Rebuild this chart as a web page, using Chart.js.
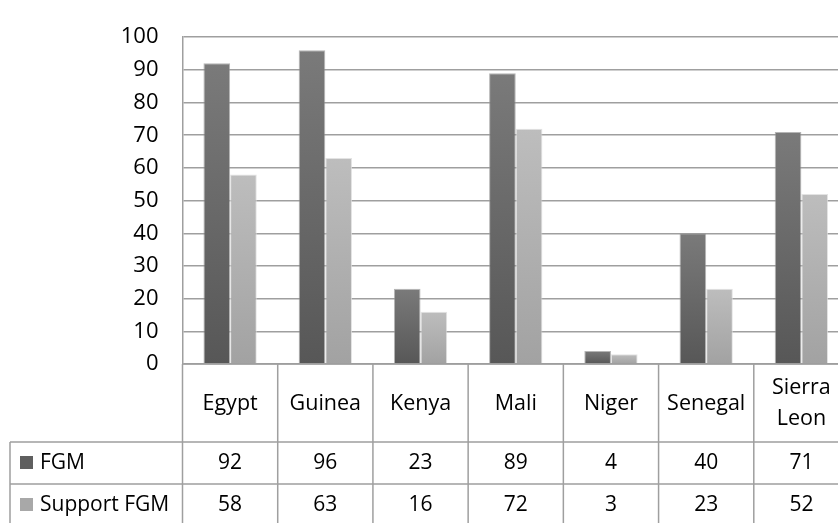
<!DOCTYPE html>
<html>
<head>
<meta charset="utf-8">
<script src="https://cdn.jsdelivr.net/npm/chart.js@4.4.1/dist/chart.umd.min.js"></script>
<style>
  html, body { margin: 0; padding: 0; background: #fff; overflow: hidden; }
  #caja { width: 850px; height: 523px; }
</style>
</head>
<body>
<div id="caja"><canvas id="grafica" width="850" height="523"></canvas></div>
<script>
const paises = ['Egypt', 'Guinea', 'Kenya', 'Mali', 'Niger', 'Senegal', ['Sierra', 'Leon']];
const fgm = [92, 96, 23, 89, 4, 40, 71];
const apoyoFgm = [58, 63, 16, 72, 3, 23, 52];
const nombresSeries = ['FGM', 'Support FGM'];
const marcasY = [0, 10, 20, 30, 40, 50, 60, 70, 80, 90, 100];

const gris = '#9f9f9f';
const fuente = "'Open Sans', sans-serif";

// degradado por barra, de arriba a abajo
function degradado(arriba, abajo) {
    return (c) => {
        const chart = c.chart;
        if (!chart.chartArea || c.raw === undefined) return abajo;
        const y = chart.scales.y;
        const y0 = y.getPixelForValue(c.raw);
        const y1 = y.getPixelForValue(0);
        if (y1 - y0 < 1) return abajo;
        const g = chart.ctx.createLinearGradient(0, y0, 0, y1);
        g.addColorStop(0, arriba);
        g.addColorStop(1, abajo);
        return g;
    };
}

// tabla de datos debajo del eje
const tablaDatos = {
    id: 'tablaDatos',
    afterDraw(chart) {
        const ctx = chart.ctx;
        const x = chart.scales.x;
        const area = chart.chartArea;
        const n = paises.length;
        const ancho = (x.right - x.left) / n;
        const y0 = area.bottom;
        const y1 = y0 + 78;
        const alto = 42;
        const y2 = y1 + alto;
        const y3 = y2 + alto;
        const filas = [fgm, apoyoFgm];
        const muestras = ['#5f5f5f', '#a8a8a8'];

        ctx.save();
        ctx.strokeStyle = gris;
        ctx.lineWidth = 1.5;
        ctx.beginPath();
        // lineas horizontales
        ctx.moveTo(x.left, y0); ctx.lineTo(x.right, y0);
        ctx.moveTo(10, y1); ctx.lineTo(x.right, y1);
        ctx.moveTo(10, y2); ctx.lineTo(x.right, y2);
        ctx.moveTo(10, y3); ctx.lineTo(x.right, y3);
        // lineas verticales
        for (let i = 0; i <= n; i++) {
            const xi = x.left + i * ancho;
            ctx.moveTo(xi, y0); ctx.lineTo(xi, y3);
        }
        ctx.moveTo(10, y1); ctx.lineTo(10, y3);
        ctx.stroke();

        ctx.font = '21px ' + fuente;
        ctx.fillStyle = '#000';
        ctx.textBaseline = 'middle';
        filas.forEach((fila, r) => {
            const yc = y1 + alto * r + alto / 2;
            ctx.fillStyle = muestras[r];
            ctx.fillRect(20, yc - 7, 13, 13);
            ctx.fillStyle = '#000';
            ctx.textAlign = 'left';
            ctx.fillText(nombresSeries[r], 40, yc);
            ctx.textAlign = 'center';
            fila.forEach((v, i) => {
                ctx.fillText(String(v), x.getPixelForValue(i), yc);
            });
        });
        ctx.restore();
    }
};

const ctx = document.getElementById('grafica').getContext('2d');

new Chart(ctx, {
    type: 'bar',
    data: {
        labels: paises,
        datasets: [{
            label: nombresSeries[0],
            data: fgm,
            backgroundColor: degradado('#7a7a7a', '#575757'),
            borderColor: 'rgba(150,150,150,0.7)',
            borderWidth: 1
        }, {
            label: nombresSeries[1],
            data: apoyoFgm,
            backgroundColor: degradado('#bdbdbd', '#a2a2a2'),
            borderColor: 'rgba(220,220,220,0.8)',
            borderWidth: 1
        }]
    },
    options: {
        responsive: false,
        animation: false,
        devicePixelRatio: 1,
        layout: { padding: { top: 20, right: 1, bottom: 81, left: 0 } },
        categoryPercentage: 0.56,
        barPercentage: 1.0,
        plugins: {
            legend: { display: false },
            tooltip: { enabled: false }
        },
        scales: {
            x: {
                afterFit: (s) => { s.height = 78; },
                grid: { display: false },
                border: { display: false },
                ticks: {
                    color: '#000',
                    font: { family: fuente, size: 21.5, lineHeight: 1.45 },
                    padding: 16,
                    maxRotation: 0,
                    autoSkip: false,
                    crossAlign: 'center'
                }
            },
            y: {
                min: 0,
                max: 100,
                afterFit: (s) => { s.width = 182.5; },
                afterBuildTicks: (s) => { s.ticks = marcasY.map(v => ({ value: v })); },
                grid: { color: gris, lineWidth: 1.5, drawTicks: false },
                border: { display: true, color: gris, width: 1.5 },
                ticks: {
                    color: '#000',
                    font: { family: fuente, size: 22 },
                    padding: 24
                }
            }
        }
    },
    plugins: [tablaDatos]
});
</script>
</body>
</html>
